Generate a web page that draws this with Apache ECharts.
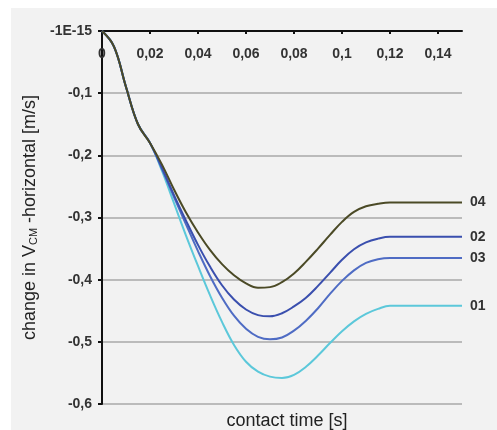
<!DOCTYPE html>
<html>
<head>
<meta charset="utf-8">
<script src="https://cdn.jsdelivr.net/npm/echarts@6/dist/echarts.min.js"></script>
<style>
  html, body { margin: 0; padding: 0; background: #ffffff; }
  #chart { position: absolute; left: 11px; top: 8px; width: 486px; height: 422px; }
</style>
</head>
<body>
<div id="chart"></div>
<script>
// contact time [s]
const times = [0, 0.005, 0.01, 0.015, 0.02, 0.025, 0.03, 0.035, 0.04, 0.045, 0.05, 0.055, 0.06, 0.065,
  0.07, 0.075, 0.08, 0.085, 0.09, 0.095, 0.1, 0.105, 0.11, 0.115, 0.12, 0.13, 0.14, 0.15];

const trial01 = [0, -0.025, -0.09, -0.15, -0.18, -0.225, -0.277, -0.329, -0.378, -0.425, -0.468, -0.505, -0.532, -0.548,
  -0.556, -0.558, -0.553, -0.54, -0.522, -0.502, -0.483, -0.467, -0.455, -0.447, -0.442, -0.442, -0.442, -0.442];
const trial02 = [0, -0.025, -0.09, -0.15, -0.18, -0.22, -0.264, -0.305, -0.344, -0.379, -0.409, -0.432, -0.448, -0.457,
  -0.459, -0.454, -0.443, -0.429, -0.41, -0.389, -0.368, -0.351, -0.34, -0.334, -0.331, -0.331, -0.331, -0.331];
const trial03 = [0, -0.025, -0.09, -0.15, -0.18, -0.222, -0.267, -0.311, -0.354, -0.394, -0.429, -0.458, -0.479, -0.492,
  -0.496, -0.493, -0.482, -0.466, -0.446, -0.423, -0.402, -0.385, -0.373, -0.367, -0.365, -0.365, -0.365, -0.365];
const trial04 = [0, -0.025, -0.09, -0.15, -0.18, -0.215, -0.255, -0.292, -0.324, -0.352, -0.375, -0.393, -0.406, -0.413,
  -0.412, -0.404, -0.39, -0.371, -0.35, -0.328, -0.307, -0.291, -0.282, -0.278, -0.276, -0.276, -0.276, -0.276];

const xTicks = { min: 0, max: 0.15, interval: 0.02 };
const yTicks = { min: -0.6, max: 0, interval: 0.1 };

const chart = echarts.init(document.getElementById('chart'));

const makeSeries = (name, values, color) => ({
  name: name,
  type: 'line',
  data: times.map((t, i) => [t, values[i]]),
  smooth: 0.4,
  showSymbol: false,
  lineStyle: { color: color, width: 2 },
  itemStyle: { color: color },
  endLabel: {
    show: true,
    formatter: name,
    distance: 8,
    color: '#333',
    fontFamily: 'Liberation Sans',
    fontSize: 14,
    fontWeight: 'bold'
  }
});

const option = {
  backgroundColor: '#f2f2f2',
  animation: false,
  title: {
    text: 'contact time [s]',
    left: 271,
    top: 399,
    textAlign: 'center',
    textStyle: { fontFamily: 'Liberation Sans', fontSize: 18, fontWeight: 'normal', color: '#222' }
  },
  grid: { left: 91, top: 23, right: 35, bottom: 26 },
  xAxis: {
    type: 'value',
    position: 'top',
    min: xTicks.min,
    max: xTicks.max,
    interval: xTicks.interval,
    axisLine: { show: true, onZero: false, lineStyle: { color: '#111', width: 2 } },
    axisTick: { show: true, inside: true, length: 3, lineStyle: { color: '#111', width: 2 } },
    splitLine: { show: false },
    axisLabel: {
      inside: true,
      margin: 16,
      showMaxLabel: false,
      color: '#333',
      fontFamily: 'Liberation Sans',
      fontSize: 14,
      fontWeight: 'bold',
      formatter: v => v === 0 ? '0' : String(+v.toFixed(2)).replace('.', ',')
    }
  },
  yAxis: {
    type: 'value',
    min: yTicks.min,
    max: yTicks.max,
    interval: yTicks.interval,
    name: 'change in V{sub|CM} -horizontal [m/s]',
    nameLocation: 'middle',
    nameGap: 46,
    nameTextStyle: {
      fontFamily: 'Liberation Sans', fontSize: 18, color: '#222',
      rich: { sub: { fontFamily: 'Liberation Sans', fontSize: 11, color: '#222', verticalAlign: 'bottom', padding: [8, 0, 0, 0] } }
    },
    axisLine: { show: true, lineStyle: { color: '#111', width: 2 } },
    axisTick: { show: true, length: 4, lineStyle: { color: '#111', width: 2 } },
    splitLine: { show: true, lineStyle: { color: '#a8a8a8', width: 1.5 } },
    axisLabel: {
      margin: 10,
      color: '#333',
      fontFamily: 'Liberation Sans',
      fontSize: 14,
      fontWeight: 'bold',
      formatter: v => Math.abs(v) < 1e-9 ? '-1E-15' : String(+v.toFixed(1)).replace('.', ',')
    }
  },
  series: [
    makeSeries('01', trial01, '#5cc8da'),
    makeSeries('03', trial03, '#4f6cc4'),
    makeSeries('02', trial02, '#3a4fae'),
    makeSeries('04', trial04, '#4b4a26')
  ]
};

option && chart.setOption(option);
</script>
</body>
</html>
